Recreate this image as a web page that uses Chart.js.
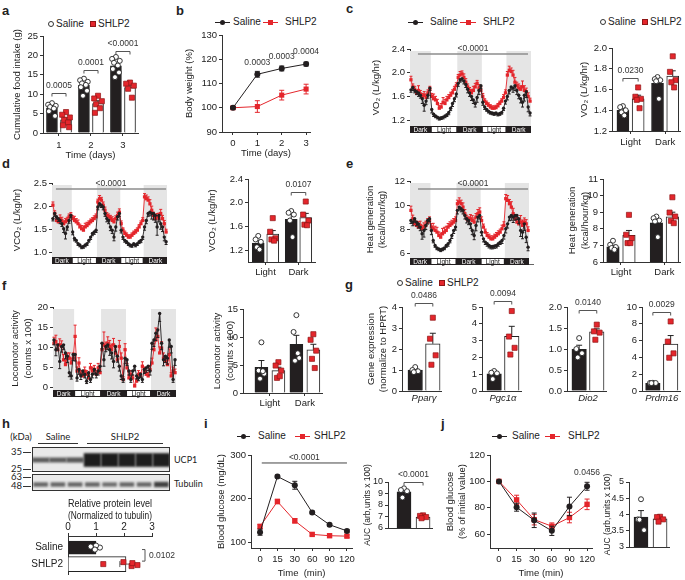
<!DOCTYPE html>
<html><head><meta charset="utf-8">
<script src="https://cdn.jsdelivr.net/npm/chart.js@4.4.1/dist/chart.umd.min.js"></script>
<style>
html,body{margin:0;padding:0;background:#fff;}
#root{position:relative;width:685px;height:580px;overflow:hidden;font-family:"Liberation Sans",Arial,sans-serif;color:#222;}
#root canvas{position:absolute;}
.t{position:absolute;white-space:nowrap;line-height:1;}
</style></head><body><div id="root"></div>
<script>
const FONT='"Liberation Sans", Arial, sans-serif';
const INK='#222', AX='#333', BLACK='#231f20', RED='#e4262c', REDEDGE='#8f1515';

/* ---------- a: cumulative food intake ---------- */
const foodDays=[1,2,3];
const foodTicks=[0,5,10,15,20,25];
const foodSalineMean=[6.4,12.3,17.3], foodSalineSem=[0.4,0.5,0.6];
const foodShlp2Mean=[3.4,7.6,11.7], foodShlp2Sem=[0.5,0.7,0.7];
const foodSalinePts=[[7.7,7.3,7.0,6.7,6.3,5.6,4.4],[14.0,13.6,13.2,12.8,12.4,11.8,10.9,9.6],[19.6,19.1,18.6,18.1,17.4,16.5,15.6,14.4]];
const foodShlp2Pts=[[5.4,4.7,4.0,3.4,2.7,2.0,1.5],[9.6,8.9,8.2,7.4,6.4,5.2],[13.0,12.7,12.2,11.4,9.1]];
const foodPvals=['0.0005','0.0001','<0.0001'];

/* ---------- b: body weight ---------- */
const bwDays=[0,1,2,3];
const bwTicks=[90,100,110,120,130];
const bwSaline=[100,113.8,116.2,118.0], bwSalineSem=[0.5,1.2,1.0,0.8];
const bwShlp2=[100,100.5,105.2,107.7], bwShlp2Sem=[0.5,2.4,2.0,2.0];
const bwPvals=['0.0003','0.0003','0.0004'];

/* ---------- time series (c, d, e, f) ---------- */
const tsPhases=['Dark','Light','Dark','Light','Dark'];
const tsPhaseLen=[11,14,13,13,13];
const vo2Ticks=[1.2,1.6,2.0,2.4];
const vo2Saline=[1.71,1.75,1.70,1.68,1.66,1.62,1.56,1.45,1.52,1.62,1.74,
 1.38,1.30,1.27,1.25,1.23,1.24,1.25,1.27,1.29,1.33,1.40,1.48,1.56,1.64,
 1.82,1.88,1.90,1.86,1.80,1.72,1.66,1.60,1.54,1.48,1.58,1.70,1.78,
 1.50,1.42,1.38,1.35,1.33,1.32,1.31,1.32,1.30,1.31,1.33,1.40,1.52,
 1.60,1.70,1.76,1.74,1.78,1.70,1.62,1.56,1.50,1.62,1.68,1.42,1.32];
const vo2SalineErr=[.04,.05,.04,.05,.06,.05,.08,.10,.06,.05,.04,
 .06,.04,.03,.03,.03,.03,.03,.03,.03,.04,.04,.05,.05,.05,
 .05,.04,.04,.05,.05,.06,.06,.07,.06,.06,.08,.07,.05,
 .05,.04,.03,.03,.03,.03,.03,.03,.03,.03,.03,.04,.05,
 .06,.06,.05,.07,.08,.07,.06,.07,.08,.10,.10,.08,.05];
const vo2Shlp2=[1.88,1.76,1.72,1.65,1.70,1.64,1.60,1.62,1.58,1.66,1.72,
 1.60,1.56,1.54,1.48,1.40,1.42,1.50,1.48,1.54,1.58,1.62,1.66,1.72,1.78,
 1.92,1.96,1.98,1.92,1.84,1.76,1.70,1.66,1.70,1.76,1.82,1.74,1.70,
 1.60,1.52,1.48,1.45,1.42,1.40,1.40,1.41,1.44,1.48,1.52,1.58,1.66,
 1.96,2.04,2.02,1.96,1.84,1.78,1.74,1.72,1.76,1.70,1.68,1.60,1.52];
const vo2Shlp2Err=[.06,.05,.05,.06,.08,.06,.05,.06,.06,.05,.05,
 .05,.08,.06,.07,.05,.06,.08,.07,.06,.05,.05,.05,.05,.05,
 .05,.06,.05,.06,.06,.05,.05,.06,.07,.06,.05,.06,.06,
 .05,.04,.04,.04,.04,.04,.04,.04,.04,.04,.04,.05,.05,
 .06,.07,.06,.08,.08,.06,.07,.06,.10,.08,.06,.06,.05];

const vco2Ticks=[1.0,1.5,2.0,2.5];
const vco2Saline=[1.73,1.84,1.77,1.73,1.69,1.62,1.51,1.41,1.55,1.69,1.80,
 1.44,1.30,1.26,1.19,1.16,1.12,1.13,1.16,1.19,1.26,1.33,1.41,1.44,1.48,
 1.98,2.05,2.02,1.98,1.84,1.73,1.69,1.55,1.48,1.33,1.55,1.77,1.84,
 1.48,1.33,1.26,1.23,1.19,1.16,1.15,1.19,1.16,1.19,1.23,1.26,1.33,
 1.55,1.69,1.84,1.87,1.84,1.84,1.80,1.55,1.80,1.62,1.55,1.33,1.23];
const vco2SalineErr=[.05,.06,.05,.06,.07,.06,.08,.12,.07,.06,.05,
 .06,.05,.04,.04,.04,.04,.04,.04,.04,.04,.05,.05,.05,.05,
 .06,.05,.05,.06,.06,.07,.07,.08,.07,.08,.09,.07,.06,
 .06,.05,.04,.04,.04,.04,.04,.04,.04,.04,.04,.05,.05,
 .07,.07,.06,.08,.12,.14,.15,.18,.14,.12,.10,.08,.06];
const vco2Shlp2=[2.02,1.84,1.69,1.66,1.73,1.69,1.62,1.66,1.69,1.77,1.80,
 1.73,1.69,1.66,1.62,1.55,1.51,1.48,1.55,1.58,1.62,1.66,1.69,1.73,1.77,
 2.09,2.16,2.13,2.02,1.91,1.80,1.77,1.73,1.69,1.66,1.73,1.80,1.87,
 1.62,1.48,1.41,1.37,1.33,1.33,1.37,1.41,1.44,1.48,1.55,1.62,1.69,
 2.20,2.16,2.13,2.05,1.91,1.80,1.73,1.77,1.73,1.84,1.73,1.62,1.44];
const vco2Shlp2Err=[.07,.06,.06,.07,.08,.07,.06,.07,.07,.06,.06,
 .06,.09,.07,.08,.06,.07,.09,.08,.07,.06,.06,.06,.06,.06,
 .06,.07,.06,.07,.07,.06,.06,.07,.08,.07,.06,.07,.07,
 .06,.05,.05,.05,.05,.05,.05,.05,.05,.05,.05,.06,.06,
 .07,.08,.07,.09,.09,.07,.08,.07,.12,.09,.07,.07,.06];

const heatTicks=[6,8,10,12];
const heatSaline=[8.72,8.58,8.86,8.58,8.44,8.17,7.61,7.89,8.31,8.72,8.86,
 7.89,7.06,6.64,6.44,6.36,6.28,6.36,6.44,6.64,6.78,7.06,7.47,7.89,8.17,
 9.56,9.83,9.69,9.56,9.14,8.86,8.72,8.44,7.89,7.47,8.31,9.00,9.14,
 7.75,7.19,6.92,6.78,6.64,6.56,6.56,6.61,6.64,6.78,6.92,7.06,7.47,
 8.03,8.44,9.00,9.14,9.00,9.14,9.14,8.86,7.89,7.75,8.44,7.33,6.50];
const heatSalineErr=[.25,.3,.25,.3,.35,.3,.45,.55,.35,.3,.25,
 .35,.2,.15,.15,.15,.15,.15,.15,.15,.2,.2,.25,.25,.25,
 .3,.25,.25,.3,.3,.35,.35,.4,.35,.35,.45,.4,.3,
 .3,.25,.2,.2,.2,.2,.2,.2,.2,.2,.2,.25,.3,
 .35,.35,.3,.4,.45,.4,.35,.4,.5,.55,.55,.45,.3];
const heatShlp2=[9.56,8.86,8.44,8.31,8.17,8.31,8.03,8.17,8.31,8.58,8.72,
 8.17,8.03,7.89,7.75,7.47,7.33,7.61,7.75,7.89,8.17,8.31,8.44,8.58,8.72,
 10.11,10.25,10.11,9.83,9.28,8.86,8.72,8.86,8.72,8.58,9.00,9.28,9.42,
 8.72,8.17,7.75,7.47,7.33,7.19,7.19,7.33,7.47,7.61,7.75,8.03,8.31,
 10.53,10.39,10.11,9.83,9.28,8.86,8.58,8.44,8.58,8.31,8.58,8.44,7.89];
const heatShlp2Err=[.35,.3,.3,.35,.45,.35,.3,.35,.35,.3,.3,
 .3,.45,.35,.4,.3,.35,.45,.4,.35,.3,.3,.3,.3,.3,
 .3,.35,.3,.35,.35,.3,.3,.35,.4,.35,.3,.35,.35,
 .3,.25,.25,.25,.25,.25,.25,.25,.25,.25,.25,.3,.3,
 .35,.4,.35,.45,.45,.35,.4,.35,.55,.45,.35,.35,.3];

const locoTicks=[0,5,10,15,20];
const locoSaline=[11.8,9.4,10.6,6.5,10.2,10.6,8.6,7.8,3.7,2.9,8.2,
 8.2,2.4,4.5,2.9,4.1,3.3,1.6,3.7,2.0,3.3,4.5,3.3,4.1,5.3,
 11.0,6.9,10.2,10.6,9.4,8.6,6.5,10.2,7.8,5.3,2.9,2.0,7.3,
 6.9,4.1,2.0,4.1,5.3,2.9,2.4,3.3,2.0,4.5,4.9,5.3,4.1,
 11.0,11.8,13.5,14.3,18.4,11.0,6.9,7.8,7.3,11.8,10.2,2.0,6.9];
const locoSalineErr=[1.2,1.5,1.3,1.8,1.4,1.2,1.5,1.6,1.0,0.8,1.5,
 1.6,0.8,1.2,0.9,1.0,0.9,0.6,1.0,0.7,0.9,1.1,0.9,1.0,1.2,
 1.4,1.6,1.3,1.2,1.4,1.5,1.6,1.3,1.5,1.2,0.9,0.7,1.4,
 1.4,1.0,0.7,1.0,1.1,0.8,0.7,0.9,0.7,1.0,1.1,1.1,1.0,
 1.5,1.6,1.8,1.9,2.0,1.6,1.5,1.6,1.5,1.8,1.6,0.7,1.4];
const locoShlp2=[11.0,11.4,9.4,10.6,10.2,6.9,5.7,7.3,7.3,6.1,7.3,
 12.7,4.1,6.1,3.3,2.9,4.1,3.3,2.4,4.9,4.1,4.5,3.3,4.9,3.7,
 9.4,10.6,9.8,11.0,10.2,9.4,10.6,8.6,6.9,10.2,7.3,2.0,9.4,
 4.9,2.4,3.3,2.4,0.4,1.6,3.3,2.9,5.3,4.1,3.3,2.9,4.5,
 6.1,9.4,11.8,12.7,8.6,9.8,7.3,6.5,5.7,8.2,2.9,4.1,3.7];
const locoShlp2Err=[1.5,1.6,1.4,1.5,1.4,1.3,1.1,1.3,1.3,1.2,1.3,
 2.8,1.0,1.3,0.9,0.8,1.0,0.9,0.7,1.1,1.0,1.0,0.9,1.1,0.9,
 1.6,3.2,1.5,1.6,1.5,1.4,1.6,1.4,1.2,1.5,1.3,0.7,1.5,
 1.1,0.7,0.9,0.7,0.4,0.6,0.9,0.8,1.1,1.0,0.9,0.8,1.0,
 1.2,1.6,3.0,1.8,1.5,1.6,1.3,1.2,1.1,1.4,0.8,1.0,0.9];

/* ---------- light/dark bar summaries ---------- */
const lightDark=['Light','Dark'];
const vo2BarTicks=[1.2,1.4,1.6,1.8,2.0];
const vo2BarSaline=[1.40,1.66], vo2BarSalineSem=[0.02,0.04];
const vo2BarShlp2=[1.51,1.73], vo2BarShlp2Sem=[0.035,0.05];
const vo2PtsSaline=[[1.44,1.43,1.40,1.38,1.35],[1.72,1.70,1.69,1.68,1.51]];
const vo2PtsShlp2=[[1.62,1.53,1.51,1.50,1.42],[1.92,1.77,1.69,1.67,1.62]];
const vco2BarTicks=[1.2,1.6,2.0,2.4];
const vco2BarSaline=[1.32,1.72], vco2BarSalineSem=[0.04,0.08];
const vco2BarShlp2=[1.47,1.75], vco2BarShlp2Sem=[0.06,0.07];
const vco2PtsSaline=[[1.44,1.38,1.34,1.25,1.21],[1.86,1.83,1.80,1.70,1.42]];
const vco2PtsShlp2=[[1.74,1.51,1.40,1.38,1.36],[2.02,1.80,1.70,1.63,1.62]];
const heatBarTicks=[6,7,8,9,10,11];
const heatBarSaline=[6.92,8.36], heatBarSalineSem=[0.09,0.22];
const heatBarShlp2=[7.6,8.72], heatBarShlp2Sem=[0.3,0.28];
const heatPtsSaline=[[7.28,7.04,6.90,6.84,6.74],[8.74,8.64,8.50,8.44,7.50]];
const heatPtsShlp2=[[8.84,7.64,7.44,7.14,7.14],[9.90,8.98,8.74,8.48,8.34]];
const locoBarTicks=[0,5,10,15];
const locoBarSaline=[4.6,8.7], locoBarSalineSem=[1.2,1.6];
const locoBarShlp2=[4.0,7.7], locoBarShlp2Sem=[0.6,1.0];
const locoPtsSaline=[[9.05,4.0,3.45,2.56,3.9],[13.9,10.9,6.25,5.77,7.1]];
const locoPtsShlp2=[[5.5,4.9,4.0,2.7,3.0],[10.5,9.5,7.56,6.1,4.46]];

/* ---------- g: gene expression ---------- */
const geneNames=['Pparγ','Pgc1α','Dio2','Prdm16'];
const geneTicks=[[0,1,2,3,4],[0,1,2,3,4,5],[0,0.5,1.0,1.5,2.0],[0,2,4,6,8,10]];
const geneSaline=[1.0,1.02,0.99,0.9], geneSalineSem=[0.06,0.1,0.1,0.05];
const geneShlp2=[2.25,3.25,1.41,5.6], geneShlp2Sem=[0.5,0.6,0.07,1.0];
const geneSalinePts=[[1.14,1.0,0.94,0.9],[1.19,1.09,1.05,0.71],[1.26,1.0,0.9,0.8],[0.98,0.96,0.95,0.94]];
const geneShlp2Pts=[[3.49,2.49,1.7,1.25],[4.76,3.24,2.57,2.17],[1.58,1.42,1.39,1.22],[8.28,5.88,4.48,3.96]];
const genePvals=['0.0486','0.0094','0.0140','0.0029'];

/* ---------- h: western blot + quantification ---------- */
const blotLanes=['Saline','Saline','Saline','SHLP2','SHLP2','SHLP2','SHLP2','SHLP2'];
const ucp1Band=[0.42,0.42,0.45,1,1,1,1,1];
const tubulinBand=[0.55,0.55,0.55,0.55,0.5,0.55,0.55,0.85];
const protGroups=['Saline','SHLP2'];
const protTicks=[0,1,2,3];
const protMean=[1.0,2.07], protSem=[0.07,0.22];
const protSalinePts=[1.14,1.0,0.96,0.81];
const protShlp2Pts=[1.26,1.98,2.27,2.30,2.48];

/* ---------- i: GTT ---------- */
const gttTimes=['0','15','30','60','90','120'];
const gttTicks=[100,200,300];
const gttSaline=[124,251,231,169,141,127], gttSalineSem=[7,3,9,3,3,3];
const gttShlp2=[137,194,150,119,116,115], gttShlp2Sem=[5,5,5,3,3,3];
const gttAucTicks=[6,7,8,9,10];
const gttAuc=[9.15,6.96], gttAucSem=[0.15,0.05];
const gttAucSalinePts=[9.45,9.3,9.2,8.65];
const gttAucShlp2Pts=[7.1,7.05,6.95,6.85];

/* ---------- j: ITT ---------- */
const ittTimes=['0','15','30','60','90','120'];
const ittTicks=[60,80,100,120];
const ittSaline=[100,80.4,70.5,62.5,81,96.3], ittSalineSem=[0,3,5.5,3.5,7,3];
const ittShlp2=[100,86,71,66,72.6,82.6], ittShlp2Sem=[0,3.5,4,2.5,4,4];
const ittAucTicks=[3,3.5,4,4.5,5];
const ittAuc=[3.92,3.87], ittAucSem=[0.2,0.03];
const ittAucSalinePts=[4.47,3.85,3.52,3.84];
const ittAucShlp2Pts=[3.93,3.92,3.85,3.78];

/* ================= helpers ================= */
const root=document.getElementById('root');
const f1=v=>Number(v).toFixed(1);
const tsIdx=vo2Saline.map((_,i)=>i);

function T(s,x,y,o={}){
  const d=document.createElement('div'); d.className='t'; d.textContent=s;
  d.style.left=x+'px'; d.style.top=y+'px'; d.style.fontSize=(o.size||9.5)+'px';
  if(o.bold) d.style.fontWeight='bold'; if(o.font) d.style.fontFamily=o.font; if(o.italic) d.style.fontStyle='italic';
  const a=o.a||'l';
  d.style.transform=a==='c'?'translate(-50%,-50%)':a==='r'?'translate(-100%,-50%)':'translate(0,-50%)';
  root.appendChild(d); return d;
}
function R(x,y,w,h,css){const d=document.createElement('div');d.style.cssText=`position:absolute;box-sizing:border-box;left:${x}px;top:${y}px;width:${w}px;height:${h}px;${css||''}`;root.appendChild(d);return d;}
function legMarkers(x,y){
  R(x,y-3,6,6,'border:1px solid #333;border-radius:50%;background:#fff');
  T('Saline',x+8,y,{size:10});
  R(x+42,y-3,6,6,`background:${RED};border:0.7px solid ${REDEDGE}`);
  T('SHLP2',x+50,y,{size:10});
}
function legLines(y,k1,k2,kt,r1,r2,rt){
  R(k1,y-0.5,k2-k1,1,`background:${BLACK}`); R((k1+k2)/2-2.5,y-2.5,5,5,`border-radius:50%;background:${BLACK}`);
  T('Saline',kt,y,{size:10});
  R(r1,y-0.5,r2-r1,1,`background:${RED}`); R((r1+r2)/2-2.5,y-2.5,5,5,`background:${RED}`);
  T('SHLP2',rt,y,{size:10});
}
function canvasAt(x,y,w,h){const c=document.createElement('canvas');c.width=w;c.height=h;c.style.left=x+'px';c.style.top=y+'px';c.style.width=w+'px';c.style.height=h+'px';root.appendChild(c);return c;}

function axis(min,max,vals,fmt,o={}){
  const s={type:'linear',min,max,offset:false,reverse:!!o.reverse,
    afterBuildTicks:sc=>{sc.ticks=vals.map(v=>({value:v}));},
    ticks:{display:!o.hideLabels,autoSkip:false,maxRotation:0,minRotation:0,padding:o.pad??2,color:INK,
      font:{family:FONT,size:o.size||9.5,style:o.italic?'italic':'normal'},callback:(v,i)=>fmt?fmt(v,i):String(v)},
    grid:{display:!o.noGrid,drawOnChartArea:false,drawTicks:(o.tickLen??3)>0,tickLength:o.tickLen??3,color:AX,lineWidth:1,offset:false},
    border:{display:!o.noBorder,color:AX,width:1},
    title:o.title?{display:true,text:o.title,color:INK,padding:0,font:{family:FONT,size:o.titleSize||9.5,lineHeight:o.titleLH||1.2}}:{display:false}};
  if(o.position) s.position=o.position;
  return s;
}

/* plugins */
const errPlugin={id:'errbars',afterDatasetDraw(chart,args){
  const ds=chart.data.datasets[args.index]; if(!ds.err) return;
  const meta=args.meta, ctx=chart.ctx, horiz=ds.indexAxis==='y';
  const vs=chart.scales[horiz?meta.xAxisID:meta.yAxisID];
  ctx.save(); ctx.strokeStyle=ds.errColor||'#222'; ctx.lineWidth=ds.errWidth||1;
  const dir=ds.errDir||'both', cap=ds.errCap??3;
  meta.data.forEach((el,j)=>{
    const e=ds.err[j]; if(!e) return;
    const p=meta.controller.getParsed(j); const v=horiz?p.x:p.y;
    const hi=dir==='down'?v:v+e, lo=dir==='up'?v:v-e;
    const p1=vs.getPixelForValue(lo), p2=vs.getPixelForValue(hi);
    ctx.beginPath();
    if(!horiz){const x=el.x;ctx.moveTo(x,p1);ctx.lineTo(x,p2);
      if(dir!=='down'){ctx.moveTo(x-cap,p2);ctx.lineTo(x+cap,p2);}
      if(dir!=='up'){ctx.moveTo(x-cap,p1);ctx.lineTo(x+cap,p1);}
    } else {const y=el.y;ctx.moveTo(p1,y);ctx.lineTo(p2,y);
      if(dir!=='down'){ctx.moveTo(p2,y-cap);ctx.lineTo(p2,y+cap);}
      if(dir!=='up'){ctx.moveTo(p1,y-cap);ctx.lineTo(p1,y+cap);}
    }
    ctx.stroke();
  });
  ctx.restore();
}};
const notesPlugin={id:'notes',afterDraw(chart){
  const ex=chart.config.options.extra; if(!ex||!ex.notes) return;
  const ctx=chart.ctx, xs=chart.scales.x, ys=chart.scales.y;
  ctx.save(); ctx.font=`${ex.noteSize||8.5}px ${FONT}`; ctx.fillStyle='#333'; ctx.textAlign='center'; ctx.textBaseline='middle';
  ex.notes.forEach(n=>{
    if(n.t==='hl'){
      const x1=xs.getPixelForValue(n.x1),x2=xs.getPixelForValue(n.x2),y=ys.getPixelForValue(n.y);
      ctx.strokeStyle=n.color||'#8c8c8c'; ctx.lineWidth=n.lw||1.6;
      ctx.beginPath();ctx.moveTo(x1,y);ctx.lineTo(x2,y);ctx.stroke();
      ctx.fillText(n.text,(x1+x2)/2,y-5.5);
    } else if(n.t==='tx'){
      ctx.fillText(n.text,xs.getPixelForValue(n.x),ys.getPixelForValue(n.y));
    } else if(n.t==='vbr'){
      const x=xs.getPixelForValue(n.x),y1=ys.getPixelForValue(n.y1),y2=ys.getPixelForValue(n.y2);
      ctx.strokeStyle='#555';ctx.lineWidth=1;ctx.beginPath();
      ctx.moveTo(x-3,y1);ctx.lineTo(x,y1);ctx.lineTo(x,y2);ctx.lineTo(x-3,y2);ctx.stroke();
      ctx.textAlign='left';ctx.fillText(n.text,x+4,(y1+y2)/2);ctx.textAlign='center';
    } else {
      const x1=xs.getPixelForValue(n.x1),x2=xs.getPixelForValue(n.x2),y=Math.round(ys.getPixelForValue(n.y))+0.5;
      ctx.strokeStyle='#555';ctx.lineWidth=1;ctx.beginPath();
      ctx.moveTo(x1,y+3);ctx.lineTo(x1,y);ctx.lineTo(x2,y);ctx.lineTo(x2,y+3);ctx.stroke();
      ctx.fillText(n.text,(x1+x2)/2,y-8);
    }
  });
  ctx.restore();
}};
const shadePlugin={id:'shade',
  beforeDatasetsDraw(chart){
    const ex=chart.config.options.extra; if(!ex||!ex.phases) return;
    const ph=ex.phases, ctx=chart.ctx, xs=chart.scales.x, ca=chart.chartArea;
    let s=0; ctx.save(); ctx.fillStyle='#e5e5e5';
    ph.names.forEach((nm,k)=>{const e=s+ph.lens[k];
      if(nm==='Dark'){const x1=xs.getPixelForValue(s-0.5),x2=xs.getPixelForValue(e-0.5);ctx.fillRect(x1,ca.top+2,x2-x1,ca.bottom-ca.top-2);}
      s=e;});
    ctx.restore();
  },
  afterDraw(chart){
    const ex=chart.config.options.extra; if(!ex||!ex.phases) return;
    const ph=ex.phases, ctx=chart.ctx, xs=chart.scales.x, ca=chart.chartArea, h=ph.h||7;
    const y0=ca.bottom, xa=xs.getPixelForValue(-0.5), xb=xs.getPixelForValue(ph.lens.reduce((a,b)=>a+b,0)-0.5);
    ctx.save(); ctx.fillStyle=BLACK; ctx.fillRect(xa,y0,xb-xa,h);
    ctx.font=`6.5px ${FONT}`; ctx.textAlign='center'; ctx.textBaseline='middle';
    let s=0;
    ph.names.forEach((nm,k)=>{const e=s+ph.lens[k];const x1=xs.getPixelForValue(s-0.5),x2=xs.getPixelForValue(e-0.5);
      if(nm==='Light'){ctx.fillStyle='#fff';ctx.fillRect(x1+1,y0+1,x2-x1-2,h-2);ctx.fillStyle='#111';}
      else ctx.fillStyle='#fff';
      ctx.fillText(nm,(x1+x2)/2,y0+h/2+0.5); s=e;});
    if(ph.ext){ctx.fillStyle='#666';ctx.fillRect(xb,y0+h-1,ph.ext,1);}
    ctx.restore();
  }};

function mkChart(o){
  const [x0,y0,x1,y1]=o.area;
  const ts=o.titleSize||9.5, tl=ts*(o.titleLH||1.2);
  const W=o.yTitleX!=null?Math.round(x0-(o.yTitleX-tl/2)):(o.yW||30);
  let H,top,padT,padB;
  if(o.xTop){H=Math.round(y0-(o.xTitleY-(o.xTitleSize||ts)*1.2/2));padT=0;padB=o.padB??4;top=y0-H;}
  else{H=o.xTitleY!=null?Math.round(o.xTitleY+ts*1.2/2-y1):(o.xH||16);padT=o.padT??14;padB=0;top=y0-padT;}
  const padR=o.padR??10;
  const cw=Math.round(x1-x0+W+padR), ch=Math.round(y1-y0+H+padT+padB);
  const cv=canvasAt(x0-W,top,cw,ch);
  o.scales.x.afterFit=s=>{s.height=H;};
  o.scales.y.afterFit=s=>{s.width=W;};
  return new Chart(cv,{type:o.type,data:{datasets:o.datasets},plugins:[shadePlugin,errPlugin,notesPlugin],
    options:{responsive:false,animation:false,events:[],layout:{padding:{top:padT,bottom:padB,left:0,right:padR}},
      plugins:{legend:{display:false},tooltip:{enabled:false}},extra:o.extra||{},scales:o.scales}});
}
function jit(i,n,sp){const pat=[0,-1,1,-0.5,0.5,-0.8,0.8,-0.25,0.25];return n<2?0:pat[i%pat.length]*sp;}
function ptsDS(groups,pos,kind,sp,r,horiz){
  const data=[];
  groups.forEach((arr,g)=>arr.forEach((v,i)=>{const q=pos[g]+jit(i,arr.length,sp);data.push(horiz?{x:v,y:q}:{x:q,y:v});}));
  const c=kind==='c';
  return {type:'scatter',data,pointStyle:c?'circle':'rect',pointRadius:r,backgroundColor:c?'#fff':RED,borderColor:c?'#222':REDEDGE,borderWidth:c?0.9:0.7,clip:false,order:0};
}
function barDS(vals,pos,fill,sem,thick,horiz){
  return {type:'bar',data:vals.map((v,i)=>horiz?{x:v,y:pos[i]}:{x:pos[i],y:v}),indexAxis:horiz?'y':'x',backgroundColor:fill,borderColor:'#222',borderWidth:1,
    barThickness:thick,grouped:false,err:sem,errDir:horiz?'both':'up',errColor:horiz?'#666':'#222',errCap:3,order:2};
}
function lineDS(xs,ys,err,kind,r,dir,lw,cap){
  const col=kind==='k'?BLACK:RED;
  return {type:'line',data:ys.map((v,i)=>({x:xs[i],y:v})),borderColor:col,borderWidth:lw||1,pointStyle:kind==='k'?'circle':'rect',
    pointRadius:r,pointBackgroundColor:col,pointBorderColor:col,pointBorderWidth:0,tension:0,fill:false,clip:false,
    err,errDir:dir,errColor:col,errCap:cap??2.5,order:kind==='k'?0:1};
}
function groupChart(o){
  const sPos=o.cats.map(c=>c-o.off), hPos=o.cats.map(c=>c+o.off), sp=o.spread??0.1;
  return mkChart({area:o.area,yTitleX:o.yTitleX,yW:o.yW,titleLH:o.titleLH,titleSize:o.titleSize,xTitleY:o.xTitleY,xH:o.xH??20,padT:o.padT,padR:o.padR,type:'bar',
    datasets:[ptsDS(o.sPts,sPos,'c',sp,2.5),ptsDS(o.hPts,hPos,'s',sp,3.6),barDS(o.sMean,sPos,BLACK,o.sSem,o.thick),barDS(o.hMean,hPos,'#fff',o.hSem,o.thick)],
    scales:{x:axis(o.x[0],o.x[1],o.cats,(v,i)=>o.labels[i],{italic:o.italic,tickLen:o.xTick??3,hideLabels:o.hideX,pad:o.xPad??2,title:o.xTitle}),
            y:axis(o.y[0],o.y[1],o.ticks,o.fmt,{title:o.title,titleSize:o.titleSize,titleLH:o.titleLH,size:o.tickSize})},
    extra:{notes:(o.notes||[]).map(n=>({x1:sPos[n.g],x2:hPos[n.g],y:n.y,text:n.text}))}});
}

/* ================= panel letters ================= */
[['a',2,10.3],['b',176,10.3],['c',346,8],['d',2,163.4],['e',346,163.4],['f',2,285.4],['g',345,284.4],['h',2,423.4],['i',204,423.4],['j',441,423.4]]
  .forEach(([s,x,y])=>T(s,x,y,{size:13,bold:true}));

/* ================= a ================= */
legMarkers(48,24);
groupChart({area:[43,36,138,133],yTitleX:18,xTitleY:155,cats:foodDays,labels:foodDays.map(String),off:0.22,thick:11,spread:0.12,xPad:3.5,
  x:[0.5,3.47],y:[0,25],ticks:foodTicks,title:'Cumulative food intake (g)',xTitle:'Time (days)',
  sMean:foodSalineMean,sSem:foodSalineSem,hMean:foodShlp2Mean,hSem:foodShlp2Sem,sPts:foodSalinePts,hPts:foodShlp2Pts,
  notes:[{g:0,y:10.3,text:foodPvals[0]},{g:1,y:16.2,text:foodPvals[1]},{g:2,y:21.1,text:foodPvals[2]}]});

/* ================= b ================= */
legLines(22,215,230,233,263,278,285);
mkChart({area:[222,35,310,132],yTitleX:190,xTitleY:153,type:'line',padR:16,
  datasets:[lineDS(bwDays,bwSaline,bwSalineSem,'k',3,'both',1),lineDS(bwDays,bwShlp2,bwShlp2Sem,'r',3.6,'both',1)],
  scales:{x:axis(-0.45,3.16,bwDays,null,{title:'Time (days)',pad:3}),y:axis(90,130,bwTicks,null,{title:'Body weight (%)'})},
  extra:{notes:[{t:'tx',x:1,y:118.5,text:bwPvals[0]},{t:'tx',x:2,y:120.9,text:bwPvals[1]},{t:'tx',x:3,y:123.0,text:bwPvals[2]}]}});

/* ================= time series ================= */
function tsChart(o){
  return mkChart({area:o.area,yTitleX:o.yTitleX,titleLH:o.titleLH,xH:10,type:'line',padR:8,
    datasets:[lineDS(tsIdx,o.s,o.se,'k',1.7,'down',0.9,1.5),lineDS(tsIdx,o.h,o.he,'r',2.3,'up',0.9,1.5)],
    scales:{x:axis(-0.5,63.5,[],null,{hideLabels:true,noGrid:true,noBorder:true}),y:axis(o.y[0],o.y[1],o.ticks,o.fmt,{title:o.title,titleLH:o.titleLH})},
    extra:{phases:{names:tsPhases,lens:tsPhaseLen,h:7,ext:o.ext||0},notes:o.notes||[]}});
}
legLines(22,408,423,430,460,476,483);
tsChart({area:[410,49,531,126],yTitleX:377,y:[1.1,2.4],ticks:vo2Ticks,fmt:f1,title:'VO₂ (L/kg/hr)',s:vo2Saline,se:vo2SalineErr,h:vo2Shlp2,he:vo2Shlp2Err,
  notes:[{t:'hl',x1:3.7,x2:61.9,y:2.316,text:'<0.0001'}]});
tsChart({area:[52,183,167,257],yTitleX:18,y:[0.9,2.5],ticks:vco2Ticks,fmt:f1,title:'VCO₂ (L/kg/hr)',s:vco2Saline,se:vco2SalineErr,h:vco2Shlp2,he:vco2Shlp2Err,
  notes:[{t:'hl',x1:1.7,x2:63,y:2.37,text:'<0.0001'}]});
tsChart({area:[410,181,529,258],yTitleX:370,titleLH:1.3,y:[5.6,12],ticks:heatTicks,title:['Heat generation','(kcal/hour/kg)'],s:heatSaline,se:heatSalineErr,h:heatShlp2,he:heatShlp2Err,ext:5,
  notes:[{t:'hl',x1:3.8,x2:63,y:11.33,text:'<0.0001'}]});
tsChart({area:[53,307,176,390],yTitleX:15,titleLH:1.35,y:[-0.6,20],ticks:locoTicks,title:['Locomotor activity','(counts x 100)'],s:locoSaline,se:locoSalineErr,h:locoShlp2,he:locoShlp2Err});

/* ================= light/dark bars ================= */
legMarkers(600,22);
groupChart({area:[612,48,680,131],yTitleX:585,cats:[1,2],labels:lightDark,off:0.22,thick:12,spread:0.08,x:[0.464,2.43],y:[1.2,2.0],ticks:vo2BarTicks,fmt:f1,title:'VO₂ (L/kg/hr)',
  sMean:vo2BarSaline,sSem:vo2BarSalineSem,hMean:vo2BarShlp2,hSem:vo2BarShlp2Sem,sPts:vo2PtsSaline,hPts:vo2PtsShlp2,padR:5,xPad:3,notes:[{g:0,y:1.71,text:'0.0230'}]});
groupChart({area:[248,179,315,262],yTitleX:213,cats:[1,2],labels:lightDark,off:0.22,thick:12,spread:0.08,x:[0.47,2.5],y:[1.0,2.4],ticks:vco2BarTicks,fmt:f1,title:'VCO₂ (L/kg/hr)',
  sMean:vco2BarSaline,sSem:vco2BarSalineSem,hMean:vco2BarShlp2,hSem:vco2BarShlp2Sem,sPts:vco2PtsSaline,hPts:vco2PtsShlp2,notes:[{g:1,y:2.18,text:'0.0107'}]});
groupChart({area:[603,179,680,262],yTitleX:572,titleLH:1.35,cats:[1,2],labels:lightDark,off:0.184,thick:12.5,spread:0.065,x:[0.586,2.36],y:[6,11],ticks:heatBarTicks,title:['Heat generation','(kcal/hour/kg)'],
  sMean:heatBarSaline,sSem:heatBarSalineSem,hMean:heatBarShlp2,hSem:heatBarShlp2Sem,sPts:heatPtsSaline,hPts:heatPtsShlp2,padR:5});
groupChart({area:[243,309,322,393],yTitleX:217,titleLH:1.35,cats:[1,2],labels:lightDark,off:0.243,thick:13,spread:0.08,x:[0.23,2.49],y:[0,15],ticks:locoBarTicks,title:['Locomotor activity','(counts x 100)'],
  sMean:locoBarSaline,sSem:locoBarSalineSem,hMean:locoBarShlp2,hSem:locoBarShlp2Sem,sPts:locoPtsSaline,hPts:locoPtsShlp2});

/* ================= g ================= */
legMarkers(397,283);
const gAreas=[[402,307,442,391],[482,307,522,391],[567,307,607,391],[642,307,681,391]];
const gX=[[-0.75,1.47],[-0.69,1.53],[-0.69,1.53],[-0.61,1.53]];
const gBr=[4.19,5.36,1.93,9.4];
geneNames.forEach((nm,k)=>{
  const tk=geneTicks[k];
  groupChart({area:gAreas[k],yTitleX:k===0?372:null,yW:30,title:k===0?['Gene expression','(normalize to HPRT)']:null,cats:[0.5],labels:[nm],italic:true,xTick:0,
    off:0.5,thick:14.5,spread:0.16,x:gX[k],y:[0,tk[tk.length-1]],ticks:tk,fmt:k===2?f1:null,padT:20,padR:4,
    sMean:[geneSaline[k]],sSem:[geneSalineSem[k]],hMean:[geneShlp2[k]],hSem:[geneShlp2Sem[k]],sPts:[geneSalinePts[k]],hPts:[geneShlp2Pts[k]],
    notes:[{g:0,y:gBr[k],text:genePvals[k]}]});
});

/* ================= h ================= */
const BF='Lato, "Liberation Sans", sans-serif';
T('(kDa)',21,437,{a:'c',font:BF});
T('Saline',58,437,{a:'c',font:BF}); R(38,443,40,1,'background:#333');
T('SHLP2',125,437,{a:'c',font:BF}); R(87,443,76,1,'background:#333');
[['35',452],['25',469],['63',477],['48',486]].forEach(([s,y])=>{T(s,22,y,{a:'r',font:BF});R(23,y-0.5,8,1,'background:#333');});
T('UCP1',174,459,{font:BF,size:9}); T('Tubulin',174,483,{font:BF,size:9});
const blotPlugin={id:'blot',
  beforeDatasetsDraw(chart){const c=chart.ctx,w=chart.width;
    c.save();c.fillStyle='#e9e9e9';c.fillRect(0,0,w,25);c.fillRect(0,27,w,17);c.restore();
    c.save();c.filter='blur(1.3px)';},
  afterDatasetsDraw(chart){chart.ctx.restore();},
  afterDraw(chart){const c=chart.ctx,w=chart.width;c.save();c.strokeStyle='#333';c.lineWidth=1;c.strokeRect(0.5,0.5,w-1,24);c.strokeRect(0.5,27.5,w-1,16);c.restore();}};
new Chart(canvasAt(32,447,138,44),{type:'bar',plugins:[blotPlugin],
  data:{datasets:[
    {data:ucp1Band.map((I,i)=>({x:i,y:[13-(1.2+5.3*I*I),13+(1.2+5.3*I*I)]})),backgroundColor:ucp1Band.map(I=>`rgba(18,18,18,${0.45+0.5*I})`),barThickness:16.5,grouped:false},
    {data:tubulinBand.map((I,i)=>({x:i,y:[37.5-(1+1.6*I),37.5+(1+1.6*I)]})),backgroundColor:tubulinBand.map(I=>`rgba(25,25,25,${0.3+0.6*I})`),barThickness:14,grouped:false}]},
  options:{responsive:false,animation:false,events:[],layout:{padding:0},plugins:{legend:{display:false},tooltip:{enabled:false}},
    scales:{x:{type:'linear',display:false,min:-0.5,max:blotLanes.length-0.5,offset:false},y:{type:'linear',display:false,min:0,max:44,reverse:true}}}});

mkChart({area:[68,536,152,577],xTop:true,xTitleY:504,titleSize:10,titleLH:1.2,yW:50,padB:8,padR:40,type:'bar',
  datasets:[ptsDS([protSalinePts],[0],'c',0.12,2.6,true),ptsDS([protShlp2Pts],[1],'s',0.12,3.6,true),
    barDS([protMean[0]],[0],BLACK,[0],13,true),barDS([protMean[1]],[1],'#fff',[protSem[1]],15,true)],
  scales:{x:axis(0,3,protTicks,null,{position:'top',title:['Relative protein level','(Normalized to tubulin)'],titleSize:10,tickLen:3,size:10,pad:0}),
          y:axis(-0.7,1.6,[0,1],(v,i)=>protGroups[i],{reverse:true,tickLen:0,size:10,pad:5})},
  extra:{noteSize:8.5,notes:[{t:'vbr',x:2.75,y1:0.12,y2:0.82,text:'0.0102'}]}});

/* ================= i ================= */
legLines(436,237,250,258,295,310,314);
const gttIdx=gttTimes.map((_,i)=>i);
mkChart({area:[251,455,352,548],yTitleX:222,xTitleY:573,type:'line',padR:10,
  datasets:[lineDS(gttIdx,gttSaline,gttSalineSem,'k',3,'both',1),lineDS(gttIdx,gttShlp2,gttShlp2Sem,'r',3.8,'both',1)],
  scales:{x:axis(-0.52,5.29,gttIdx,(v,i)=>gttTimes[i],{title:'Time  (min)',pad:3}),y:axis(88,300,gttTicks,null,{title:'Blood glucose (mg/dL)'})},
  extra:{notes:[{t:'hl',x1:0.1,x2:5.0,y:281.8,text:'<0.0001',lw:1,color:'#444'}]}});
groupChart({area:[388,482,432,528],yTitleX:368,titleSize:8.5,tickSize:9,cats:[0.5],labels:[''],hideX:true,xTick:0,off:0.5,thick:14,spread:0.16,x:[-0.84,1.47],y:[6,10],ticks:gttAucTicks,
  title:'AUC (arb,units x 100)',padT:24,xH:20,sMean:[gttAuc[0]],sSem:[gttAucSem[0]],hMean:[gttAuc[1]],hSem:[gttAucSem[1]],sPts:[gttAucSalinePts],hPts:[gttAucShlp2Pts],
  notes:[{g:0,y:10,text:'<0.0001'}]});

/* ================= j ================= */
legLines(436,492,507,512,545,560,568);
const ittIdx=ittTimes.map((_,i)=>i);
mkChart({area:[490,455,592,548],yTitleX:450,titleLH:1.27,xTitleY:573,type:'line',padR:14,
  datasets:[lineDS(ittIdx,ittSaline,ittSalineSem,'k',3,'both',1),lineDS(ittIdx,ittShlp2,ittShlp2Sem,'r',3.8,'both',1)],
  scales:{x:axis(-0.51,5.28,ittIdx,(v,i)=>ittTimes[i],{title:'Time (min)',pad:3}),y:axis(49.5,120,ittTicks,null,{title:['Blood glucose','(% of initial value)'],titleLH:1.27})},
  extra:{notes:[{t:'tx',x:5,y:106.3,text:'0.0456'}]}});
groupChart({area:[629,482,669,547],yTitleX:608,titleSize:8.5,tickSize:9,cats:[0.5],labels:[''],hideX:true,xTick:0,off:0.5,thick:14,spread:0.16,x:[-0.63,1.47],y:[3,5],ticks:ittAucTicks,
  title:'AUC (arb,units x 100)',padT:16,xH:14,sMean:[ittAuc[0]],sSem:[ittAucSem[0]],hMean:[ittAuc[1]],hSem:[ittAucSem[1]],sPts:[ittAucSalinePts],hPts:[ittAucShlp2Pts]});
</script></body></html>
